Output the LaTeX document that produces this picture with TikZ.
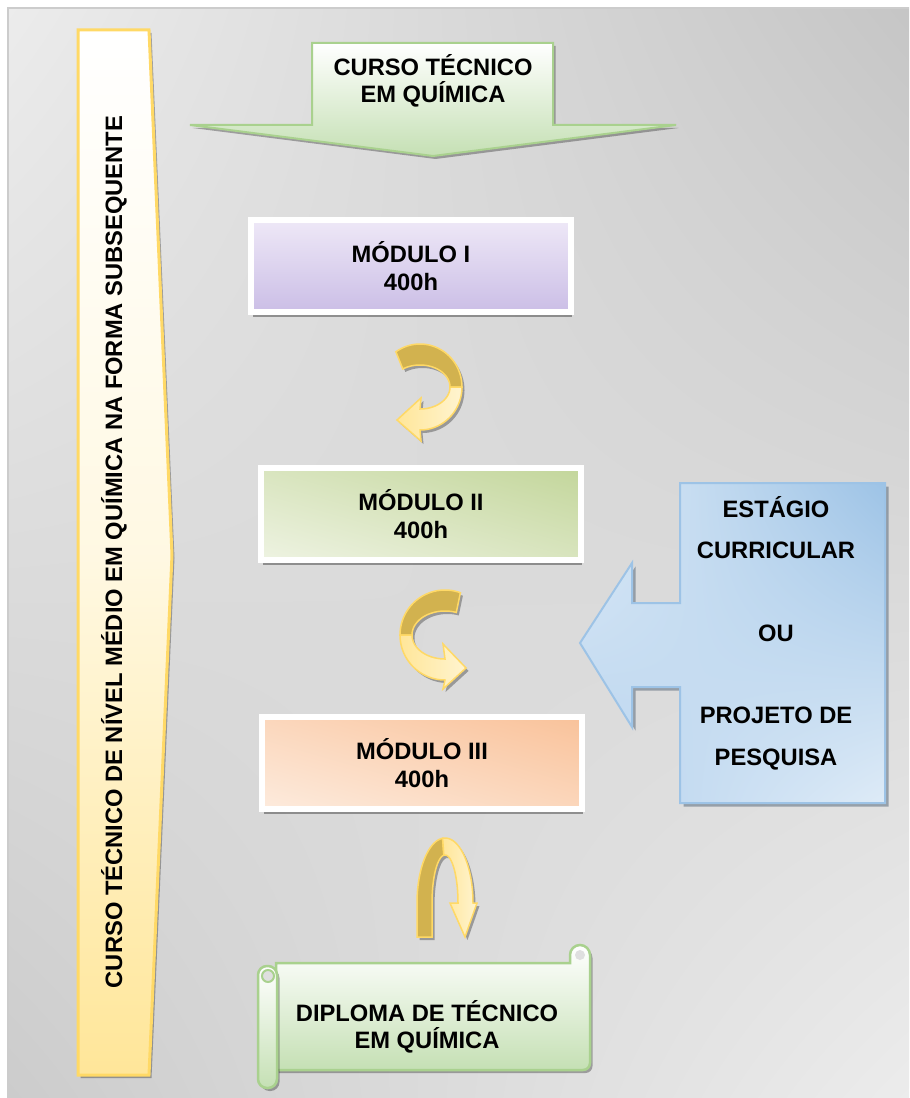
\documentclass[tikz,border=0pt]{standalone}
\usepackage{fontspec}
\setmainfont{Liberation Sans}
\usetikzlibrary{calc,shadows,shadings,positioning}

\definecolor{goldline}{HTML}{FFD966}
\definecolor{goldfill}{HTML}{FFE699}
\definecolor{greenline}{HTML}{A9D18E}
\definecolor{greenfill}{HTML}{C5E0B4}
\definecolor{lilacA}{HTML}{EEE8F7}
\definecolor{lilacB}{HTML}{CBBEE6}
\definecolor{leafA}{HTML}{C3D69B}
\definecolor{leafB}{HTML}{EEF3E2}
\definecolor{peachA}{HTML}{F9C29A}
\definecolor{peachB}{HTML}{FDEBDD}
\definecolor{skyline}{HTML}{9DC3E6}
\definecolor{skylight}{HTML}{DEEBF7}
\definecolor{skymid}{HTML}{B7D3EE}
\definecolor{ochre}{HTML}{D2B24F}
\definecolor{cream}{HTML}{FFF4D0}

\tikzstyle{txt}=[font=\fontsize{13.5}{15.6}\selectfont\bfseries, align=center]
\tikzstyle{shadowed}=[drop shadow={shadow xshift=0.05cm, shadow yshift=-0.06cm, fill=black, opacity=0.3}]
\tikzstyle{module}=[txt, draw=white, line width=0.12cm, minimum width=6.4cm, minimum height=1.84cm,
  drop shadow={shadow xshift=0.03cm, shadow yshift=-0.1cm, fill=black, opacity=0.35}]
\tikzstyle{ribback}=[draw=goldline, line width=0.03cm, fill=ochre, shadowed]
\tikzstyle{ribfront}=[draw=goldline, line width=0.03cm, left color=goldfill, right color=cream, shadowed]
\tikzstyle{scroll}=[draw=greenline, line width=0.05cm, top color=white, bottom color=greenfill]

\begin{document}
\begin{tikzpicture}[x=0.02cm, y=-0.02cm]
  \useasboundingbox (0,0) rectangle (909,1098);
  \fill[white] (0,0) rectangle (909,1098);
  % background panel
  \shade[upper left=gray!15, upper right=gray!45, lower left=gray!40, lower right=gray!15] (8,8) rectangle (909,1098);
  \draw[gray!40, line width=0.04cm] (909,8) -- (8,8) -- (8,1098);

  % side banner
  \filldraw[draw=goldline, line width=0.06cm, top color=white, bottom color=goldfill, middle color=cream!60, shadowed]
    (78,30) -- (149,30) -- (172,555) -- (149,1075) -- (78,1075) -- cycle;
  \node[txt, rotate=90] (banner) at (114,552) {CURSO TÉCNICO DE NÍVEL MÉDIO EM QUÍMICA NA FORMA SUBSEQUENTE};

  % top arrow
  \filldraw[draw=greenline, line width=0.04cm, top color=white, bottom color=greenfill, shadowed]
    (312,43) -- (553,43) -- (553,125) -- (676,125) -- (433,156) -- (190,125) -- (312,125) -- cycle;
  \node[txt] (course) at (433,81) {CURSO TÉCNICO\\EM QUÍMICA};

  % modules
  \node[module, top color=lilacA, bottom color=lilacB] (modA) at (411,266) {MÓDULO I\\400h};
  \node[module, upper right=leafA, lower left=leafB, upper left=leafA!50!leafB, lower right=leafA!50!leafB] (modB) at (421,514) {MÓDULO II\\400h};
  \node[module, upper right=peachA, lower left=peachB, upper left=peachA!50!peachB, lower right=peachA!50!peachB] (modC) at (422,763) {MÓDULO III\\400h};

  % turn arrows
  \begin{scope}[shift={(420,387)}]
    \filldraw[ribback] plot[domain=125:0, samples=30] ({42*cos(\x)},{-43*sin(\x)})
      -- plot[domain=0:125, samples=30] ({30*cos(\x)},{-22*sin(\x)}) -- cycle;
    \filldraw[ribfront] plot[domain=0:-90, samples=30] ({42*cos(\x)},{-43*sin(\x)})
      -- (1,54) -- (-23,33) -- (1,11) -- plot[domain=-90:0, samples=30] ({30*cos(\x)},{-22*sin(\x)}) -- cycle;
  \end{scope}
  \begin{scope}[shift={(445,635)}]
    \filldraw[ribback] plot[domain=70:180, samples=30] ({45*cos(\x)},{-45*sin(\x)})
      -- plot[domain=180:70, samples=30] ({33*cos(\x)},{-24*sin(\x)}) -- cycle;
    \filldraw[ribfront] plot[domain=180:270, samples=30] ({45*cos(\x)},{-45*sin(\x)})
      -- (-2,54) -- (21,33) -- (-2,9) -- plot[domain=270:180, samples=30] ({33*cos(\x)},{-24*sin(\x)}) -- cycle;
  \end{scope}
  \begin{scope}[shift={(445,903)}]
    \filldraw[ribback] (-28,34) -- plot[domain=180:95, samples=30] ({28*cos(\x)},{-65*sin(\x)})
      -- plot[domain=95:180, samples=30] ({13*cos(\x)},{-48*sin(\x)}) -- (-13,34) -- cycle;
    \filldraw[ribfront] plot[domain=95:0, samples=30] ({28*cos(\x)},{-65*sin(\x)})
      -- (32,0) -- (20,34) -- (5,0) -- plot[domain=0:95, samples=30] ({13*cos(\x)},{-48*sin(\x)}) -- cycle;
  \end{scope}

  % internship arrow
  \filldraw[draw=skyline, line width=0.04cm, upper left=skylight, upper right=skyline, lower left=skymid, lower right=skylight,
    drop shadow={shadow xshift=0.07cm, shadow yshift=-0.07cm, fill=skyline!50!black, opacity=0.5}]
    (680,483) -- (885,483) -- (885,803) -- (680,803) -- (680,687) -- (632,687) -- (632,727)
    -- (580,643) -- (632,563) -- (632,603) -- (680,603) -- cycle;
  \node[txt, font=\fontsize{13.5}{23.5}\selectfont\bfseries] (stage) at (776,633)
    {ESTÁGIO\\CURRICULAR\\[23.5pt]OU\\[23.5pt]PROJETO DE\\PESQUISA};

  % diploma scroll
  \filldraw[scroll, shadowed] (276,963) -- (570,963) -- (570,955) arc(180:360:10)
    -- (590,1063) to[out=-90, in=0] (583,1070) -- (276,1070) -- cycle;
  \fill[gray!25] (580,955) circle (5);
  \filldraw[scroll, rounded corners=0.18cm, shadowed] (258,966) rectangle (277,1088);
  \filldraw[draw=greenline, line width=0.04cm, fill=gray!25] (268,976) circle (6);
  \node[txt] (diploma) at (427,1027) {DIPLOMA DE TÉCNICO\\EM QUÍMICA};
\end{tikzpicture}
\end{document}
